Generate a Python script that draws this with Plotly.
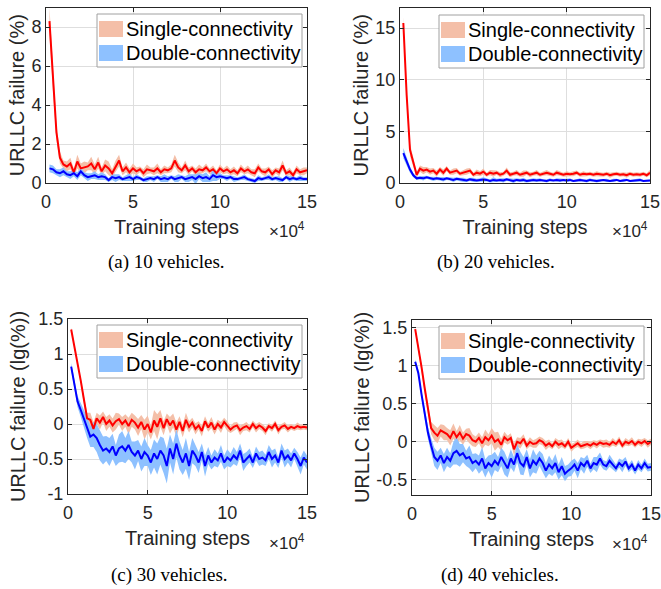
import plotly.graph_objects as go

# training steps (x 10^4)
steps = [round(0.2 * k, 1) for k in range(1, 76)]

# ---------- (a) 10 vehicles, URLLC failure (%) ----------
a_single = [8.3, 5.2, 2.6, 1.3, 0.95, 0.85, 1.0, 0.55, 1.1, 0.75,
            0.8, 0.85, 1.0, 0.7, 1.05, 0.6, 0.9, 0.75, 0.5, 0.85,
            1.15, 0.6, 0.8, 0.55, 0.75, 0.6, 0.7, 0.5, 0.7, 0.65,
            0.6, 0.75, 0.55, 0.7, 0.65, 0.75, 1.15, 0.8, 0.65, 0.9,
            0.6, 0.75, 0.55, 0.7, 0.65, 0.8, 0.6, 0.7, 0.5, 0.75,
            0.6, 0.7, 0.55, 0.65, 0.5, 0.75, 0.6, 0.7, 0.55, 0.5,
            0.8, 0.6, 0.55, 0.7, 0.45, 0.65, 0.55, 0.9, 0.5, 0.6,
            0.4, 0.7, 0.55, 0.6, 0.65]
a_single_sd = [0.7, 0.5, 0.4, 0.3, 0.2, 0.25, 0.3, 0.2, 0.35, 0.25,
               0.3, 0.2, 0.35, 0.25, 0.3, 0.2, 0.3, 0.35, 0.2, 0.3,
               0.3, 0.2, 0.25, 0.2, 0.25, 0.2, 0.15, 0.2, 0.25, 0.15,
               0.2, 0.25, 0.15, 0.2, 0.15, 0.2, 0.3, 0.25, 0.15, 0.25,
               0.2, 0.15, 0.2, 0.25, 0.15, 0.2, 0.15, 0.2, 0.15, 0.2,
               0.15, 0.2, 0.15, 0.2, 0.15, 0.2, 0.15, 0.2, 0.15, 0.2,
               0.2, 0.15, 0.2, 0.15, 0.2, 0.15, 0.2, 0.25, 0.15, 0.2,
               0.15, 0.2, 0.15, 0.2, 0.15]
a_double = [0.75, 0.7, 0.55, 0.5, 0.6, 0.45, 0.4, 0.5, 0.35, 0.6,
            0.4, 0.3, 0.35, 0.4, 0.3, 0.35, 0.3, 0.15, 0.3, 0.25,
            0.3, 0.2, 0.25, 0.3, 0.2, 0.3, 0.25, 0.15, 0.2, 0.25,
            0.2, 0.3, 0.2, 0.25, 0.2, 0.3, 0.2, 0.25, 0.3, 0.2,
            0.25, 0.3, 0.2, 0.35, 0.25, 0.3, 0.2, 0.4, 0.3, 0.35,
            0.3, 0.25, 0.3, 0.2, 0.2, 0.25, 0.3, 0.2, 0.15, 0.1,
            0.25, 0.2, 0.25, 0.3, 0.2, 0.25, 0.2, 0.15, 0.3, 0.2,
            0.25, 0.2, 0.25, 0.2, 0.2]
a_double_sd = [0.2, 0.2, 0.15, 0.2, 0.2, 0.15, 0.2, 0.15, 0.2, 0.2,
               0.15, 0.2, 0.15, 0.2, 0.15, 0.2, 0.15, 0.1, 0.15, 0.2,
               0.15, 0.1, 0.15, 0.2, 0.1, 0.15, 0.1, 0.1, 0.15, 0.1,
               0.15, 0.1, 0.15, 0.2, 0.15, 0.1, 0.15, 0.2, 0.1, 0.15,
               0.2, 0.15, 0.25, 0.15, 0.2, 0.25, 0.15, 0.3, 0.2, 0.15,
               0.1, 0.15, 0.1, 0.15, 0.1, 0.1, 0.15, 0.1, 0.1, 0.1,
               0.15, 0.1, 0.1, 0.15, 0.1, 0.1, 0.15, 0.1, 0.1, 0.15,
               0.1, 0.1, 0.15, 0.1, 0.1]

# ---------- (b) 20 vehicles, URLLC failure (%) ----------
b_single = [15.5, 8.5, 3.2, 2.0, 0.8, 1.4, 1.2, 1.3, 1.1, 1.2,
            0.9, 1.3, 1.0, 1.4, 1.0, 1.1, 1.2, 0.9, 1.0, 1.1,
            1.2, 0.8, 1.0, 0.9, 1.1, 0.8, 1.0, 0.9, 1.0, 0.8,
            0.9, 1.2, 0.8, 0.9, 1.0, 0.8, 0.9, 1.0, 0.8, 0.9,
            1.0, 0.8, 0.9, 1.0, 0.9, 0.8, 1.0, 0.9, 0.8, 0.9,
            0.85, 0.9, 1.0, 0.8, 0.9, 0.85, 0.9, 0.8, 0.9, 0.85,
            0.8, 0.9, 0.75, 0.85, 0.9, 0.8, 0.85, 0.75, 0.9, 0.8,
            0.85, 0.8, 0.9, 0.75, 1.0]
b_single_sd = [0.6, 0.5, 0.6, 0.5, 0.3, 0.3, 0.35, 0.25, 0.3, 0.25,
               0.3, 0.25, 0.3, 0.25, 0.2, 0.3, 0.25, 0.2, 0.25, 0.3,
               0.25, 0.2, 0.3, 0.25, 0.3, 0.2, 0.25, 0.3, 0.2, 0.25,
               0.2, 0.3, 0.25, 0.2, 0.25, 0.2, 0.3, 0.2, 0.25, 0.2,
               0.25, 0.2, 0.2, 0.25, 0.2, 0.2, 0.25, 0.2, 0.2, 0.25,
               0.2, 0.25, 0.2, 0.2, 0.25, 0.2, 0.2, 0.2, 0.25, 0.2,
               0.2, 0.2, 0.25, 0.2, 0.2, 0.2, 0.2, 0.25, 0.2, 0.2,
               0.2, 0.2, 0.2, 0.2, 0.25]
b_double = [2.9, 2.1, 1.3, 0.75, 0.45, 0.5, 0.45, 0.55, 0.45, 0.4,
            0.45, 0.4, 0.35, 0.45, 0.4, 0.3, 0.4, 0.35, 0.3, 0.25,
            0.35, 0.3, 0.25, 0.3, 0.35, 0.3, 0.2, 0.3, 0.25, 0.3,
            0.25, 0.35, 0.3, 0.2, 0.3, 0.25, 0.3, 0.2, 0.25, 0.3,
            0.25, 0.3, 0.25, 0.2, 0.3, 0.25, 0.3, 0.25, 0.3, 0.25,
            0.3, 0.2, 0.25, 0.3, 0.25, 0.2, 0.3, 0.25, 0.2, 0.25,
            0.3, 0.25, 0.2, 0.25, 0.3, 0.2, 0.25, 0.3, 0.2, 0.25,
            0.25, 0.3, 0.2, 0.25, 0.25]
b_double_sd = [0.5, 0.4, 0.3, 0.2, 0.15, 0.15, 0.2, 0.15, 0.15, 0.2,
               0.15, 0.15, 0.2, 0.15, 0.15, 0.2, 0.15, 0.15, 0.2, 0.15,
               0.15, 0.2, 0.15, 0.15, 0.2, 0.15, 0.15, 0.25, 0.15, 0.15,
               0.2, 0.15, 0.15, 0.2, 0.15, 0.15, 0.2, 0.15, 0.15, 0.15,
               0.15, 0.15, 0.1, 0.15, 0.15, 0.1, 0.15, 0.15, 0.1, 0.15,
               0.15, 0.1, 0.15, 0.15, 0.1, 0.15, 0.15, 0.1, 0.15, 0.1,
               0.1, 0.15, 0.1, 0.15, 0.1, 0.1, 0.15, 0.1, 0.1, 0.1,
               0.1, 0.15, 0.1, 0.1, 0.1]

# ---------- (c) 30 vehicles, URLLC failure (lg(%)) ----------
c_single = [1.35, 1.12, 0.88, 0.62, 0.35, 0.08, 0.06, -0.07, 0.08, 0.02,
            0.1, 0.0, 0.05, -0.02, 0.04, 0.07, 0.0, 0.05, -0.03, 0.06,
            0.02, -0.05, 0.03, -0.08, 0.0, -0.12, 0.05, -0.04, 0.08, -0.06,
            0.07, -0.02, 0.05, -0.08, 0.03, -0.1, 0.06, -0.04, 0.02, -0.07,
            -0.02, -0.1, 0.04, -0.05, 0.02, -0.08, 0.0, -0.05, 0.03, -0.03,
            -0.08, -0.04, -0.02, -0.09, -0.05, -0.03, -0.07, 0.0, -0.06, -0.02,
            -0.05, -0.1, -0.03, -0.06, 0.0, -0.09, -0.04, -0.02, -0.07, -0.04,
            -0.06, -0.03, -0.05, -0.04, -0.05]
c_single_sd = [0.03, 0.03, 0.03, 0.03, 0.05, 0.08, 0.1, 0.1, 0.08, 0.1,
               0.08, 0.1, 0.09, 0.1, 0.12, 0.08, 0.1, 0.09, 0.12, 0.1,
               0.1, 0.12, 0.1, 0.14, 0.12, 0.1, 0.15, 0.18, 0.12, 0.1,
               0.08, 0.12, 0.1, 0.1, 0.08, 0.09, 0.1, 0.08, 0.07, 0.08,
               0.06, 0.08, 0.07, 0.06, 0.08, 0.07, 0.06, 0.08, 0.06, 0.07,
               0.05, 0.06, 0.05, 0.07, 0.05, 0.06, 0.05, 0.05, 0.06, 0.05,
               0.05, 0.06, 0.04, 0.05, 0.05, 0.06, 0.04, 0.05, 0.05, 0.04,
               0.04, 0.05, 0.04, 0.04, 0.04]
c_double = [0.82, 0.55, 0.32, 0.2, 0.08, -0.05, -0.18, -0.15, -0.2, -0.3,
            -0.38, -0.35, -0.4, -0.32, -0.45, -0.35, -0.32, -0.38, -0.3, -0.4,
            -0.45, -0.38, -0.5, -0.4, -0.45, -0.55, -0.42, -0.5, -0.38, -0.45,
            -0.6, -0.35, -0.5, -0.28, -0.45, -0.55, -0.42, -0.6, -0.38, -0.45,
            -0.55, -0.4, -0.6, -0.45, -0.55, -0.48, -0.52, -0.42, -0.55, -0.48,
            -0.52, -0.45, -0.5, -0.38, -0.55, -0.5, -0.45, -0.55, -0.42, -0.5,
            -0.48, -0.52, -0.4, -0.5, -0.45, -0.55, -0.38, -0.5, -0.45, -0.52,
            -0.42, -0.5, -0.6, -0.48, -0.55]
c_double_sd = [0.05, 0.06, 0.08, 0.1, 0.12, 0.15, 0.15, 0.18, 0.2, 0.22,
               0.2, 0.18, 0.2, 0.18, 0.15, 0.2, 0.22, 0.18, 0.2, 0.15,
               0.2, 0.15, 0.18, 0.2, 0.15, 0.18, 0.2, 0.22, 0.2, 0.25,
               0.25, 0.2, 0.22, 0.2, 0.2, 0.18, 0.22, 0.2, 0.18, 0.15,
               0.15, 0.12, 0.15, 0.12, 0.1, 0.12, 0.1, 0.12, 0.1, 0.12,
               0.1, 0.12, 0.1, 0.1, 0.12, 0.1, 0.1, 0.08, 0.1, 0.1,
               0.1, 0.08, 0.1, 0.12, 0.1, 0.08, 0.1, 0.12, 0.1, 0.1,
               0.08, 0.1, 0.12, 0.1, 0.1]

# ---------- (d) 40 vehicles, URLLC failure (lg(%)) ----------
d_single = [1.48, 1.25, 0.98, 0.7, 0.42, 0.18, 0.12, 0.08, 0.15, 0.12,
            0.1, 0.05, 0.14, 0.06, 0.12, 0.04, 0.1, 0.08, 0.02, 0.0,
            0.05, -0.02, 0.06, 0.02, 0.08, 0.0, 0.03, -0.04, 0.06, 0.02,
            0.05, -0.1, 0.0, -0.02, 0.04, -0.05, 0.0, -0.03, -0.02, 0.02,
            0.0, -0.05, -0.02, -0.06, 0.0, -0.04, -0.02, -0.06, 0.0, -0.08,
            -0.05, -0.02, -0.06, -0.04, -0.03, -0.05, -0.02, -0.04, -0.01, -0.03,
            -0.02, -0.04, 0.0, -0.03, 0.02, -0.05, 0.0, -0.02, 0.01, -0.04,
            0.0, -0.02, 0.01, -0.03, 0.0]
d_single_sd = [0.03, 0.03, 0.03, 0.04, 0.05, 0.08, 0.1, 0.1, 0.08, 0.1,
               0.08, 0.1, 0.1, 0.08, 0.1, 0.08, 0.07, 0.1, 0.08, 0.07,
               0.07, 0.08, 0.1, 0.08, 0.1, 0.12, 0.1, 0.08, 0.07, 0.06,
               0.06, 0.08, 0.06, 0.07, 0.06, 0.05, 0.06, 0.05, 0.06, 0.05,
               0.05, 0.06, 0.05, 0.04, 0.05, 0.06, 0.05, 0.04, 0.05, 0.05,
               0.04, 0.05, 0.04, 0.05, 0.04, 0.05, 0.04, 0.05, 0.04, 0.05,
               0.05, 0.04, 0.05, 0.04, 0.05, 0.04, 0.05, 0.04, 0.05, 0.04,
               0.04, 0.05, 0.04, 0.05, 0.04]
d_double = [1.05, 0.9, 0.62, 0.35, 0.12, -0.05, -0.2, -0.25, -0.18, -0.28,
            -0.2, -0.25, -0.15, -0.12, -0.18, -0.15, -0.22, -0.2, -0.28, -0.25,
            -0.3, -0.22, -0.35, -0.28, -0.32, -0.25, -0.3, -0.2, -0.28, -0.35,
            -0.22, -0.3, -0.15, -0.28, -0.32, -0.2, -0.35, -0.25, -0.3, -0.22,
            -0.28, -0.38, -0.3, -0.35, -0.28, -0.4, -0.32, -0.42, -0.38, -0.35,
            -0.3, -0.38, -0.28, -0.32, -0.25, -0.35, -0.28, -0.3, -0.22, -0.3,
            -0.32, -0.25, -0.3, -0.35, -0.28, -0.32, -0.26, -0.35, -0.3, -0.38,
            -0.3, -0.35, -0.28, -0.34, -0.33]
d_double_sd = [0.03, 0.04, 0.05, 0.06, 0.08, 0.1, 0.12, 0.12, 0.1, 0.12,
               0.12, 0.1, 0.15, 0.18, 0.15, 0.12, 0.1, 0.15, 0.12, 0.1,
               0.12, 0.15, 0.12, 0.1, 0.15, 0.12, 0.1, 0.12, 0.15, 0.12,
               0.12, 0.1, 0.12, 0.15, 0.12, 0.1, 0.12, 0.15, 0.12, 0.1,
               0.12, 0.1, 0.12, 0.1, 0.12, 0.1, 0.12, 0.1, 0.08, 0.1,
               0.08, 0.1, 0.08, 0.1, 0.08, 0.06, 0.08, 0.1, 0.08, 0.06,
               0.06, 0.08, 0.06, 0.05, 0.06, 0.08, 0.06, 0.05, 0.06, 0.05,
               0.06, 0.05, 0.06, 0.05, 0.05]

series_names = ["Single-connectivity", "Double-connectivity"]
x_ticks = [0, 5, 10, 15]
captions = ["(a) 10 vehicles.", "(b) 20 vehicles.", "(c) 30 vehicles.", "(d) 40 vehicles."]
y_titles = ["URLLC failure (%)", "URLLC failure (%)",
            "URLLC failure (lg(%))", "URLLC failure (lg(%))"]
y_ranges = [[0, 9], [0, 17], [-1, 1.5], [-0.7, 1.6]]
y_ticks = [[0, 2, 4, 6, 8], [0, 5, 10, 15],
           [-1, -0.5, 0, 0.5, 1, 1.5], [-0.5, 0, 0.5, 1, 1.5]]
y_ticktext = [["0", "2", "4", "6", "8"], ["0", "5", "10", "15"],
              ["-1", "-0.5", "0", "0.5", "1", "1.5"], ["-0.5", "0", "0.5", "1", "1.5"]]

panels = [(a_single, a_single_sd, a_double, a_double_sd),
          (b_single, b_single_sd, b_double, b_double_sd),
          (c_single, c_single_sd, c_double, c_double_sd),
          (d_single, d_single_sd, d_double, d_double_sd)]

# layout geometry (pixels in 661x589)
W, H = 661, 589
boxes = [(46, 307, 7.5, 183), (400, 650, 7.5, 183),
         (68, 307, 319, 494), (412, 651, 320, 495)]
legend_pos = [(97, 14), (439, 15), (97, 325), (439, 326)]   # top-left of legend box
LEG_W, LEG_H = 205, 53
caption_pos = [(166, 262), (496, 262), (169, 575), (500, 575)]
x10_pos = [(307, 230), (650, 230), (307, 542), (650, 543)]

RED_BAND = "rgb(244,191,168)"
BLUE_BAND = "rgb(142,193,255)"
TXT = "#262626"
SANS = "Liberation Sans, Arial, Helvetica, sans-serif"


def px(x):
    return x / W


def py(y):
    return 1 - y / H


fig = go.Figure()
layout = {}
annotations = []
shapes = []

for i, (s, s_sd, d, d_sd) in enumerate(panels):
    n = "" if i == 0 else str(i + 1)
    xa, ya = "x" + n, "y" + n
    xb = steps + steps[::-1]
    s_up = [m + h for m, h in zip(s, s_sd)]
    s_lo = [m - h for m, h in zip(s, s_sd)]
    d_up = [m + h for m, h in zip(d, d_sd)]
    d_lo = [m - h for m, h in zip(d, d_sd)]
    fig.add_trace(go.Scatter(x=xb, y=s_up + s_lo[::-1], fill="toself",
                             fillcolor=RED_BAND, line=dict(width=0, color=RED_BAND),
                             mode="lines", name=series_names[0], showlegend=False,
                             xaxis=xa, yaxis=ya, hoverinfo="skip"))
    fig.add_trace(go.Scatter(x=xb, y=d_up + d_lo[::-1], fill="toself",
                             fillcolor=BLUE_BAND, line=dict(width=0, color=BLUE_BAND),
                             mode="lines", name=series_names[1], showlegend=False,
                             xaxis=xa, yaxis=ya, hoverinfo="skip"))
    fig.add_trace(go.Scatter(x=steps, y=s, mode="lines", name=series_names[0],
                             line=dict(color="#ff0000", width=2),
                             showlegend=False, xaxis=xa, yaxis=ya))
    fig.add_trace(go.Scatter(x=steps, y=d, mode="lines", name=series_names[1],
                             line=dict(color="#0000ff", width=2),
                             showlegend=False, xaxis=xa, yaxis=ya))

    x0, x1, yt, yb = boxes[i]
    common = dict(showline=True, linecolor=TXT, linewidth=1, mirror="ticks",
                  ticks="inside", ticklen=4, tickcolor=TXT,
                  showgrid=True, gridcolor="#dedede", gridwidth=1,
                  zeroline=False, ticklabeloverflow="allow",
                  tickfont=dict(size=18, color=TXT, family=SANS))
    layout["xaxis" + n] = dict(common, domain=[px(x0), px(x1)], anchor=ya,
                               range=[0, 15], tickvals=x_ticks,
                               ticklabelstandoff=2,
                               title=dict(text="Training steps", standoff=9,
                                          font=dict(size=20, color=TXT, family=SANS)))
    layout["yaxis" + n] = dict(common, domain=[py(yb), py(yt)], anchor=xa,
                               range=y_ranges[i], tickvals=y_ticks[i],
                               ticktext=y_ticktext[i],
                               title=dict(text=y_titles[i], standoff=1,
                                          font=dict(size=20, color=TXT, family=SANS)))

    # legend box (drawn by hand to match the filled-patch swatches)
    lx, ly = legend_pos[i]
    shapes.append(dict(type="rect", xref="paper", yref="paper",
                       x0=px(lx), x1=px(lx + LEG_W), y0=py(ly + LEG_H), y1=py(ly),
                       line=dict(color="#a0a0a0", width=1), fillcolor="white"))
    for k, (col, name) in enumerate(zip([RED_BAND, BLUE_BAND], series_names)):
        cy = ly + 15 + 24 * k
        shapes.append(dict(type="rect", xref="paper", yref="paper",
                           x0=px(lx + 2), x1=px(lx + 26), y0=py(cy + 8), y1=py(cy - 8),
                           line=dict(width=0), fillcolor=col))
        annotations.append(dict(text=name, x=px(lx + 27), y=py(cy), xref="paper",
                                yref="paper", showarrow=False, xanchor="left",
                                yanchor="middle",
                                font=dict(family=SANS, size=20, color="black")))

    cx, cy = caption_pos[i]
    annotations.append(dict(text=captions[i], x=px(cx), y=py(cy),
                            xref="paper", yref="paper", showarrow=False,
                            xanchor="center", yanchor="middle",
                            font=dict(family="Liberation Serif, Times New Roman, serif",
                                      size=19, color="black")))
    tx, ty = x10_pos[i]
    annotations.append(dict(text="\u00d710<sup>4</sup>", x=px(tx), y=py(ty),
                            xref="paper", yref="paper", showarrow=False,
                            xanchor="right", yanchor="middle",
                            font=dict(family=SANS, size=17, color=TXT)))

fig.update_layout(width=W, height=H,
                  margin=dict(l=0, r=0, t=0, b=0, pad=0, autoexpand=False),
                  paper_bgcolor="white", plot_bgcolor="white",
                  font=dict(family=SANS, color=TXT), showlegend=False,
                  annotations=annotations, shapes=shapes, **layout)

fig.write_html("out.html")
